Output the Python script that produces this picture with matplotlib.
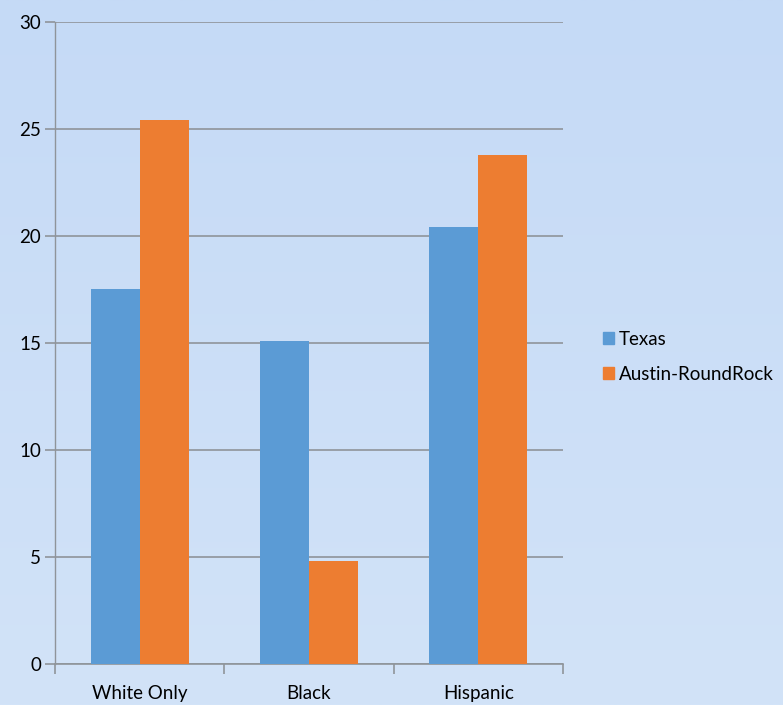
import numpy as np
import matplotlib.pyplot as plt
from matplotlib.patches import Patch

plt.rcParams['font.family'] = ['Lato', 'DejaVu Sans']

categories = ['White Only', 'Black', 'Hispanic']
texas = [17.5, 15.1, 20.4]
austin = [25.4, 4.8, 23.8]
series_names = ['Texas', 'Austin-RoundRock']
colors = ['#5b9bd5', '#ed7d31']

fig = plt.figure(figsize=(7.83, 7.05), dpi=100)

# soft blue gradient behind everything
bg = fig.add_axes([0, 0, 1, 1], zorder=-10)
grad = np.linspace(0, 1, 256).reshape(-1, 1)
bg.imshow(grad, aspect='auto', extent=[0, 1, 0, 1],
          cmap=plt.matplotlib.colors.LinearSegmentedColormap.from_list(
              'bg', ['#c5daf6', '#d2e3f8']))
bg.axis('off')

ax = fig.add_axes([0.0702, 0.0582, 0.6488, 0.9106])
ax.patch.set_alpha(0)

x = np.arange(len(categories))
w = 0.29
ax.bar(x - w / 2, texas, w, color=colors[0], zorder=3)
ax.bar(x + w / 2, austin, w, color=colors[1], zorder=3)

ax.set_xlim(-0.5, 2.5)
ax.set_ylim(0, 30)
ax.set_yticks(range(0, 31, 5))
ax.yaxis.grid(True, color='#8f949a', linewidth=1.2, zorder=1)
ax.set_axisbelow(True)

for s in ['top', 'right']:
    ax.spines[s].set_visible(False)
ax.spines['left'].set_color('#8f949a')
ax.spines['bottom'].set_color('#8f949a')
ax.spines['left'].set_linewidth(1.0)
ax.spines['bottom'].set_linewidth(1.2)

ax.tick_params(axis='y', length=7, color='#8f949a', width=1.2, labelsize=13.5, pad=3)
ax.set_xticks(x)
ax.set_xticklabels(categories, fontsize=13.5)
ax.tick_params(axis='x', length=0, pad=15)
ax.set_xticks([-0.5, 0.5, 1.5, 2.5], minor=True)
ax.tick_params(axis='x', which='minor', length=7, color='#8f949a', width=1.2)

handles = [Patch(color=c, label=n) for c, n in zip(colors, series_names)]
fig.legend(handles=handles, loc='center left', bbox_to_anchor=(0.748, 0.494),
           frameon=False, fontsize=13.5, handlelength=0.6, handleheight=0.6,
           handletextpad=0.25, labelspacing=0.95)

fig.savefig('out.png', dpi=100)
